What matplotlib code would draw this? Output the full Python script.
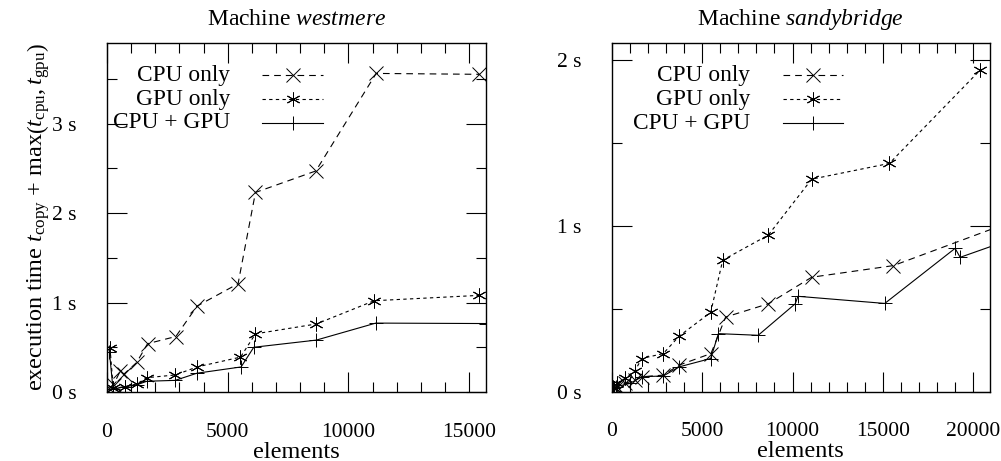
import numpy as np
import matplotlib
matplotlib.use('Agg')
import matplotlib.pyplot as plt
from matplotlib.ticker import MultipleLocator, FuncFormatter

plt.rcParams['font.family'] = ['Liberation Serif', 'DejaVu Serif']
plt.rcParams['mathtext.fontset'] = 'custom'
plt.rcParams['mathtext.rm'] = 'Liberation Serif'
plt.rcParams['mathtext.it'] = 'Liberation Serif:italic'
plt.rcParams['lines.scale_dashes'] = False
plt.rcParams['font.size'] = 15.5

# machine westmere
wm_cpu_x = [100, 270, 540, 700, 1230, 1680, 2850, 3730, 5430, 6150, 8650, 11150, 15430]
wm_cpu_y = [0.05, 0.08, 0.23, 0.20, 0.33, 0.54, 0.62, 0.96, 1.21, 2.23, 2.47, 3.56, 3.55]
wm_gpu_x = [125, 260, 750, 1233, 1650, 2825, 3730, 5530, 6150, 8670, 11070, 15430]
wm_gpu_y = [0.49, 0.04, 0.06, 0.09, 0.16, 0.19, 0.28, 0.39, 0.65, 0.76, 1.02, 1.08]
wm_both_x = [100, 250, 750, 1233, 1650, 2825, 3725, 5555, 6080, 8670, 11135, 15700]
wm_both_y = [0.45, 0.03, 0.06, 0.08, 0.12, 0.13, 0.21, 0.28, 0.50, 0.58, 0.77, 0.765]

# machine sandybridge
sb_cpu_x = [100, 275, 735, 1290, 1690, 2855, 3720, 5490, 6300, 8660, 11060, 15575, 22000]
sb_cpu_y = [0.02, 0.03, 0.05, 0.07, 0.09, 0.10, 0.16, 0.23, 0.45, 0.53, 0.69, 0.76, 1.02]
sb_gpu_x = [100, 275, 735, 1290, 1660, 2855, 3740, 5475, 6140, 8660, 11060, 15355, 20370]
sb_gpu_y = [0.02, 0.05, 0.08, 0.127, 0.20, 0.23, 0.336, 0.478, 0.793, 0.944, 1.281, 1.376, 1.938]
sb_both_x = [75, 230, 1010, 1660, 2855, 3740, 5475, 5900, 8100, 10150, 10300, 15100, 18990, 19270, 22000]
sb_both_y = [0.02, 0.03, 0.05, 0.09, 0.095, 0.15, 0.20, 0.35, 0.34, 0.53, 0.575, 0.532, 0.864, 0.81, 0.915]

labels = ['CPU only', 'GPU only', 'CPU + GPU']
styles = [dict(ls=(0, (4.8, 3.6)), marker='x'),
          dict(ls=(0, (2.4, 2.4)), marker=(6, 2, 0)),
          dict(ls='-', marker='+')]

fig = plt.figure(figsize=(10.01, 4.61), dpi=100)
ax1 = fig.add_axes([107/1001, 69/461, 379/1001, 349/461])
ax2 = fig.add_axes([611.7/1001, 69.3/461, 378.3/1001, 348.4/461])

panels = [
    (ax1, 'westmere', [(wm_cpu_x, wm_cpu_y), (wm_gpu_x, wm_gpu_y), (wm_both_x, wm_both_y)],
     15700, 3.9, 0.3245, (0.409, 0.570, 0.491)),
    (ax2, 'sandybridge', [(sb_cpu_x, sb_cpu_y), (sb_gpu_x, sb_gpu_y), (sb_both_x, sb_both_y)],
     20920, 2.1, 0.3656, (0.4528, 0.6114, 0.532)),
]

rows = [0.908, 0.8395, 0.771]

for ax, name, series, xmax, ymax, txt_x, (s0, s1, sm) in panels:
    for (x, y), st, lab, ry in zip(series, styles, labels, rows):
        ax.plot(x, y, color='black', lw=0.8, ls=st['ls'], marker=st['marker'],
                ms=10, mew=0.7)
        # gnuplot style key: right aligned text, then sample
        ax.text(txt_x, ry, lab, ha='right', va='center', transform=ax.transAxes,
                fontsize=16.8)
        ax.plot([s0, s1], [ry, ry], color='black', lw=0.8, ls=st['ls'],
                transform=ax.transAxes, clip_on=False)
        ax.plot([sm], [ry], color='black', marker=st['marker'], ms=10, mew=0.7,
                transform=ax.transAxes, clip_on=False)
    ax.set_xlim(0, xmax)
    ax.set_ylim(0, ymax)
    ax.xaxis.set_major_locator(MultipleLocator(5000))
    ax.xaxis.set_minor_locator(MultipleLocator(1000))
    ax.yaxis.set_major_locator(MultipleLocator(1))
    ax.yaxis.set_minor_locator(MultipleLocator(0.5))
    ax.yaxis.set_major_formatter(FuncFormatter(lambda v, p: '%d s' % round(v)))
    ax.tick_params(which='both', direction='in', top=True, right=True, pad=22,
                   width=0.8, labelsize=15.5)
    ax.tick_params(which='major', length=14.5)
    ax.tick_params(which='minor', length=7.2)
    for sp in ax.spines.values():
        sp.set_linewidth(1.0)
    ax.set_xlabel('elements', labelpad=0, fontsize=17.5)
    ax.set_title('Machine $\\mathit{' + name + '}$', pad=13, fontsize=17)

ax1.set_ylabel('execution time $t_{\\mathrm{copy}}$ + max$\\left(t_{\\mathrm{cpu}},t_{\\mathrm{gpu}}\\right)$',
               labelpad=0, fontsize=17.5)

fig.savefig('out.png', dpi=100)
